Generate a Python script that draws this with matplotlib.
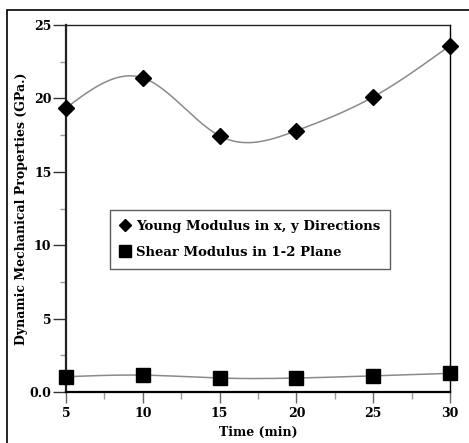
import numpy as np
import matplotlib
matplotlib.use("Agg")
import matplotlib.pyplot as plt
from matplotlib.lines import Line2D
from matplotlib.patches import Rectangle

time_min = [5, 10, 15, 20, 25, 30]
young_modulus = [19.35, 21.4, 17.45, 17.8, 20.1, 23.6]
shear_modulus = [1.04, 1.15, 0.95, 0.95, 1.1, 1.27]
x_ticks = [5, 10, 15, 20, 25, 30]
y_ticks = [0, 5, 10, 15, 20, 25]
y_tick_labels = ["0.0", "5", "10", "15", "20", "25"]


def natural_spline(x, y, n=300):
    x = np.asarray(x, float)
    y = np.asarray(y, float)
    k = len(x)
    h = np.diff(x)
    A = np.zeros((k, k))
    b = np.zeros(k)
    A[0, 0] = 1
    A[-1, -1] = 1
    for i in range(1, k - 1):
        A[i, i - 1] = h[i - 1]
        A[i, i] = 2 * (h[i - 1] + h[i])
        A[i, i + 1] = h[i]
        b[i] = 6 * ((y[i + 1] - y[i]) / h[i] - (y[i] - y[i - 1]) / h[i - 1])
    M = np.linalg.solve(A, b)
    xs = np.linspace(x[0], x[-1], n)
    ys = np.empty_like(xs)
    for j, xv in enumerate(xs):
        i = min(np.searchsorted(x, xv, side="right") - 1, k - 2)
        t1 = x[i + 1] - xv
        t0 = xv - x[i]
        ys[j] = (M[i] * t1 ** 3 + M[i + 1] * t0 ** 3) / (6 * h[i]) \
            + (y[i] / h[i] - M[i] * h[i] / 6) * t1 \
            + (y[i + 1] / h[i] - M[i + 1] * h[i] / 6) * t0
    return xs, ys


serif = ["DejaVu Serif", "Liberation Serif"]
plt.rcParams["font.family"] = serif
plt.rcParams["font.weight"] = "bold"

fig = plt.figure(figsize=(4.69, 4.43), dpi=100)
fig.patch.set_facecolor("white")
W, H = 469, 443
ax = fig.add_axes([66 / W, 1 - 392 / H, (450 - 66) / W, (392 - 25) / H])

# outer border
fig.patches.append(Rectangle((7 / W, -0.01), 1.0, 1 - 10 / H + 0.01,
                             transform=fig.transFigure, fill=False,
                             edgecolor="black", linewidth=1.2))

xs, ys = natural_spline(time_min, young_modulus)
ax.plot(xs, ys, color="#8a8a8a", linewidth=1.1, zorder=2)
xs2, ys2 = natural_spline(time_min, shear_modulus)
ax.plot(xs2, ys2, color="#8a8a8a", linewidth=1.1, zorder=2)
ax.plot(time_min, young_modulus, linestyle="none", marker="D", markersize=8,
        color="black", zorder=3, clip_on=False)
ax.plot(time_min, shear_modulus, linestyle="none", marker="s", markersize=9.5,
        color="black", zorder=3, clip_on=False)

ax.set_xlim(5, 30)
ax.set_ylim(0, 25)
ax.set_xticks(x_ticks)
ax.set_xticks([7.5, 12.5, 17.5, 22.5, 27.5], minor=True)
ax.set_yticks(y_ticks)
ax.set_yticklabels(y_tick_labels)
ax.set_yticks([2.5, 7.5, 12.5, 17.5, 22.5], minor=True)

ax.tick_params(axis="y", which="major", direction="out", length=9.5, width=1,
               pad=1, labelsize=9, color="#333333")
ax.tick_params(axis="y", which="minor", direction="out", length=4, width=1,
               color="#999999")
ax.tick_params(axis="x", which="major", direction="out", length=8, width=1,
               pad=3, labelsize=9, color="#666666")
ax.tick_params(axis="x", which="minor", direction="out", length=5, width=1,
               color="#999999")
for lab in ax.get_xticklabels() + ax.get_yticklabels():
    lab.set_fontweight("bold")

ax.spines["left"].set_linewidth(1.6)
ax.spines["bottom"].set_linewidth(1.6)
ax.spines["top"].set_linewidth(1.0)
ax.spines["right"].set_linewidth(1.0)
ax.spines["left"].set_color("#222222")
ax.spines["top"].set_color("#222222")

ax.set_xlabel("Time (min)", fontsize=9, fontweight="bold", labelpad=4)
ax.set_ylabel("Dynamic Mechanical Properties (GPa.)", fontsize=9,
              fontweight="bold", labelpad=1)

handles = [
    Line2D([], [], linestyle="none", marker="D", markersize=6, color="black"),
    Line2D([], [], linestyle="none", marker="s", markersize=9, color="black"),
]
labels = ["Young Modulus in x, y Directions", "Shear Modulus in 1-2 Plane"]
leg = ax.legend(handles, labels, loc="upper left",
                bbox_to_anchor=((110 - 66) / 384, (392 - 210) / 367),
                frameon=True, fancybox=False, edgecolor="#333333",
                prop={"family": serif, "weight": "bold", "size": 9.5},
                handlelength=0.8, handletextpad=0.4, borderpad=0.75,
                labelspacing=1.0, borderaxespad=0)
leg.get_frame().set_linewidth(1.0)

fig.savefig("out.png", dpi=100)
